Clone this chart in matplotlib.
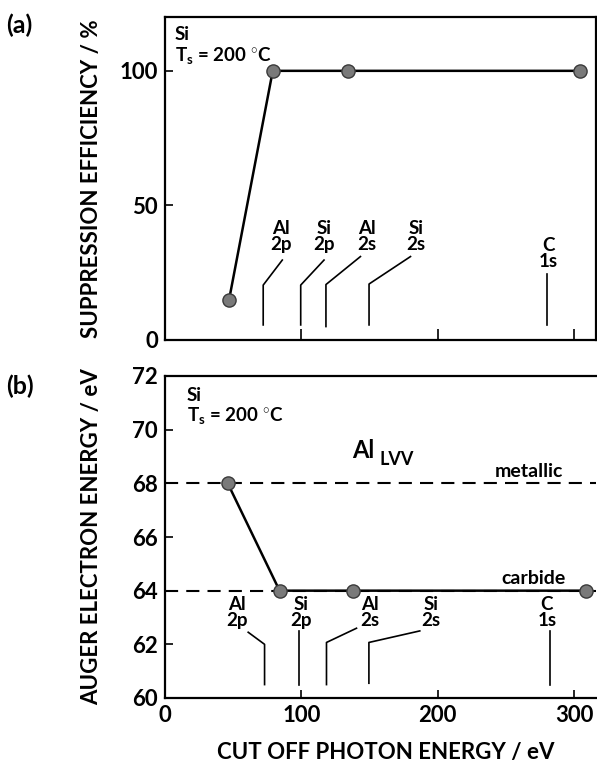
import matplotlib
matplotlib.use("Agg")
import matplotlib.pyplot as plt

# ---------------- data ----------------
cutoff_a = [47, 79, 134, 304]
efficiency_a = [15, 100, 100, 100]

cutoff_b = [46, 84, 138, 309]
auger_b = [68, 64, 64, 64]

metallic_level = 68
carbide_level = 64

edge_labels = ["Al\n2p", "Si\n2p", "Al\n2s", "Si\n2s", "C\n1s"]
edge_energies_a = [72, 99.5, 118, 149.6, 280]
edge_energies_b = [73, 98.5, 118.4, 149.5, 282.5]

xticks = [0, 100, 200, 300]
yticks_a = [0, 50, 100]
yticks_b = [60, 62, 64, 66, 68, 70, 72]

# ---------------- layout (leader lines / label placement) ----------------
# (y_bottom, y_kink, x_end or None, y_end, label_x, label_y)
leaders_a = [
    (5.6, 20.4, 86, 29.7, 85, 33.3),
    (5.6, 20.4, 116.6, 29.7, 116.6, 33.3),
    (5.0, 20.6, 143.3, 31.0, 148, 33.3),
    (5.6, 20.8, 180, 31.0, 184, 33.3),
    (5.6, 24.5, None, None, 281, 27.0),
]
leaders_b = [
    (60.5, 62.0, 61, 62.45, 52.7, 62.68),
    (60.47, 62.5, None, None, 100, 62.68),
    (60.5, 62.07, 140.4, 62.6, 150, 62.68),
    (60.55, 62.07, 186.8, 62.5, 195, 62.68),
    (60.5, 62.5, None, None, 280, 62.68),
]

FONT = ["Lato", "DejaVu Sans"]
plt.rcParams["font.family"] = FONT
plt.rcParams["font.weight"] = "bold"
plt.rcParams["axes.labelweight"] = "bold"
plt.rcParams["mathtext.fontset"] = "custom"
plt.rcParams["mathtext.rm"] = "Lato:bold"
plt.rcParams["mathtext.it"] = "Lato:bold"
plt.rcParams["mathtext.bf"] = "Lato:bold"
plt.rcParams["mathtext.default"] = "rm"

W, H = 597, 764
fig = plt.figure(figsize=(W / 100, H / 100), dpi=100)

def px_axes(left, top, right, bottom):
    return fig.add_axes([left / W, 1 - bottom / H, (right - left) / W, (bottom - top) / H])

ax_a = px_axes(165, 17, 596, 340)
ax_b = px_axes(165, 376, 596, 698)

marker_kw = dict(marker="o", markersize=9.5, markerfacecolor="#7a7a7a",
                 markeredgecolor="#3a3a3a", markeredgewidth=1.0,
                 color="black", lw=1.8, zorder=5)

tick_fs = 16
for ax in (ax_a, ax_b):
    for s in ax.spines.values():
        s.set_linewidth(1.6)
    ax.tick_params(direction="in", length=6, width=1.2, labelsize=tick_fs, pad=5)
    ax.set_xlim(0, 316)
    ax.set_xticks(xticks)

ax_b.spines["right"].set_visible(False)

lab_fs = 13.5
ts_text = "Si\nT$_{s}$ = 200 $^{\\circ}$C"
# ----- panel (a) -----
ax_a.plot(cutoff_a, efficiency_a, **marker_kw)
ax_a.set_ylim(0, 120)
ax_a.set_yticks(yticks_a)
ax_a.tick_params(axis="x", labelbottom=False, length=8)
ax_a.set_ylabel("SUPPRESSION EFFICIENCY / %", fontsize=16)
ax_a.yaxis.set_label_coords(-0.146, 0.5)
ax_a.text(7, 116.5, ts_text, fontsize=13.5, va="top", ha="left", linespacing=1.1)

for e, lab, (yb, yk, xe, ye, lx, ly) in zip(edge_energies_a, edge_labels, leaders_a):
    xs = [e, e]
    ys = [yb, yk]
    if xe is not None:
        xs.append(xe)
        ys.append(ye)
    ax_a.plot(xs, ys, color="black", lw=1.2)
    ax_a.text(lx, ly, lab, fontsize=lab_fs, ha="center", va="baseline", linespacing=0.95)

# ----- panel (b) -----
for lvl in (metallic_level, carbide_level):
    ax_b.axhline(lvl, color="black", lw=1.5, dashes=(6.3, 3.9), zorder=2)
ax_b.plot(cutoff_b, auger_b, **marker_kw)
ax_b.set_ylim(60, 72)
ax_b.set_yticks(yticks_b)
ax_b.set_ylabel("AUGER ELECTRON ENERGY / eV", fontsize=16)
ax_b.yaxis.set_label_coords(-0.146, 0.5)
ax_b.set_xlabel("CUT OFF PHOTON ENERGY / eV", fontsize=16)
ax_b.xaxis.set_label_coords(0.513, -0.138)
ax_b.text(16, 71.6, ts_text, fontsize=13.5, va="top", ha="left", linespacing=1.1)
ax_b.text(137, 68.95, "Al", fontsize=17, ha="left", va="baseline")
ax_b.text(157.5, 68.68, "LVV", fontsize=13, ha="left", va="baseline")
ax_b.text(266.7, 68.25, "metallic", fontsize=14, ha="center", va="baseline")
ax_b.text(270, 64.24, "carbide", fontsize=14, ha="center", va="baseline")

for e, lab, (yb, yk, xe, ye, lx, ly) in zip(edge_energies_b, edge_labels, leaders_b):
    xs = [e, e]
    ys = [yb, yk]
    if xe is not None:
        xs.append(xe)
        ys.append(ye)
    ax_b.plot(xs, ys, color="black", lw=1.2)
    ax_b.text(lx, ly, lab, fontsize=lab_fs, ha="center", va="baseline", linespacing=0.95)

# panel tags
fig.text(6 / W, 1 - 25 / H, "(a)", fontsize=18, ha="left", va="center")
fig.text(6 / W, 1 - 386 / H, "(b)", fontsize=18, ha="left", va="center")

fig.savefig("out.png", dpi=100)
